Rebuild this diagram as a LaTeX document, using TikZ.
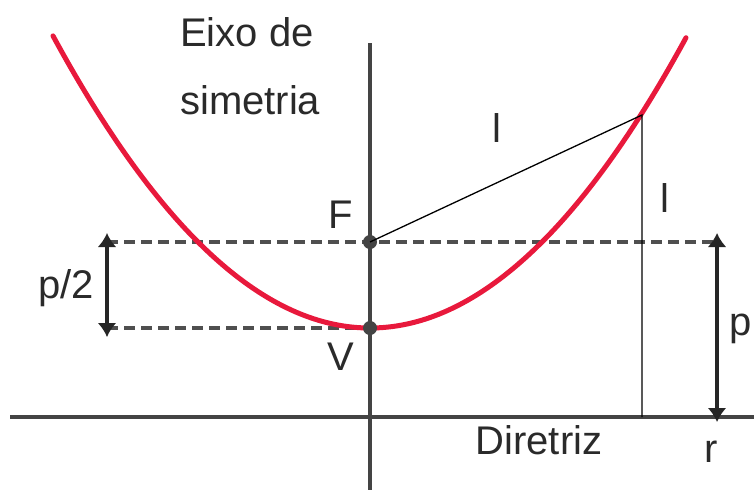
\documentclass[tikz,border=0pt]{standalone}
\usepackage{fontspec}
\setmainfont{Liberation Sans}
\usetikzlibrary{arrows.meta}
\definecolor{axisgray}{HTML}{444444}
\definecolor{txtgray}{HTML}{2A2A2A}
\definecolor{dashgray}{HTML}{4F4F4F}
\definecolor{curvered}{HTML}{E8193C}
\begin{document}
\begin{tikzpicture}[x=1pt,y=-1pt,
  lbl/.style={inner sep=0pt,text=txtgray,font=\fontsize{40}{44}\selectfont},
  dot/.style={circle,fill=axisgray,inner sep=0pt,minimum size=14pt},
  axisline/.style={axisgray,line width=3.6pt},
  guide/.style={dashgray,line width=3.2pt,dash pattern=on 11pt off 6pt},
  thin/.style={black,line width=1.3pt},
  dimarrow/.style={line width=3.6pt,black!85,{Latex[length=14pt,width=19pt]}-{Latex[length=14pt,width=19pt]}}]
\useasboundingbox (0,0) rectangle (754,490);
% coordinates
\coordinate (axtop) at (370,43);
\coordinate (axbot) at (370,490);
\coordinate (dl) at (10,417);
\coordinate (dr) at (754,417);
\coordinate (P) at (642,115);
\coordinate (Q) at (642,417);
\coordinate (a1) at (107,242);
\coordinate (a2) at (107,328);
\coordinate (b1) at (717,242);
\coordinate (b2) at (717,417);
% dashed guides
\draw[guide] (a1) -- (b1);
\draw[guide] (a2) -- (370,328);
% parabola
\draw[curvered,line width=5pt,line cap=round] plot[domain=-317:316,samples=120,smooth] ({370+\x},{328-(\x/18.547)*(\x/18.547)});
% axes
\draw[axisline] (axtop) -- (axbot);
\draw[axisline] (dl) -- (dr);
% dots
\node[dot] (F) at (370,242) {};
\node[dot] (V) at (370,328) {};
% thin lines
\draw[thin] (F.center) -- (P) -- (Q);
% dimension arrows
\draw[dimarrow,shorten <=-9pt,shorten >=-9pt] (a1) -- (a2);
\draw[dimarrow,shorten <=-9pt,shorten >=-5pt] (b1) -- (b2);
% labels
\node[lbl,anchor=west] (eixo) at (180,32) {Eixo de};
\node[lbl,anchor=west] (sim) at (180,100) {simetria};
\node[lbl] (lt) at (497,128) {l};
\node[lbl] (lr) at (665,198) {l};
\node[lbl] (Fl) at (341,215) {F};
\node[lbl] (Vl) at (341,357) {V};
\node[lbl] (p2) at (66,288) {p/2};
\node[lbl] (pl) at (741,329) {p};
\node[lbl] (dir) at (539,440) {Diretriz};
\node[lbl] (rl) at (711,452) {r};
\end{tikzpicture}
\end{document}
